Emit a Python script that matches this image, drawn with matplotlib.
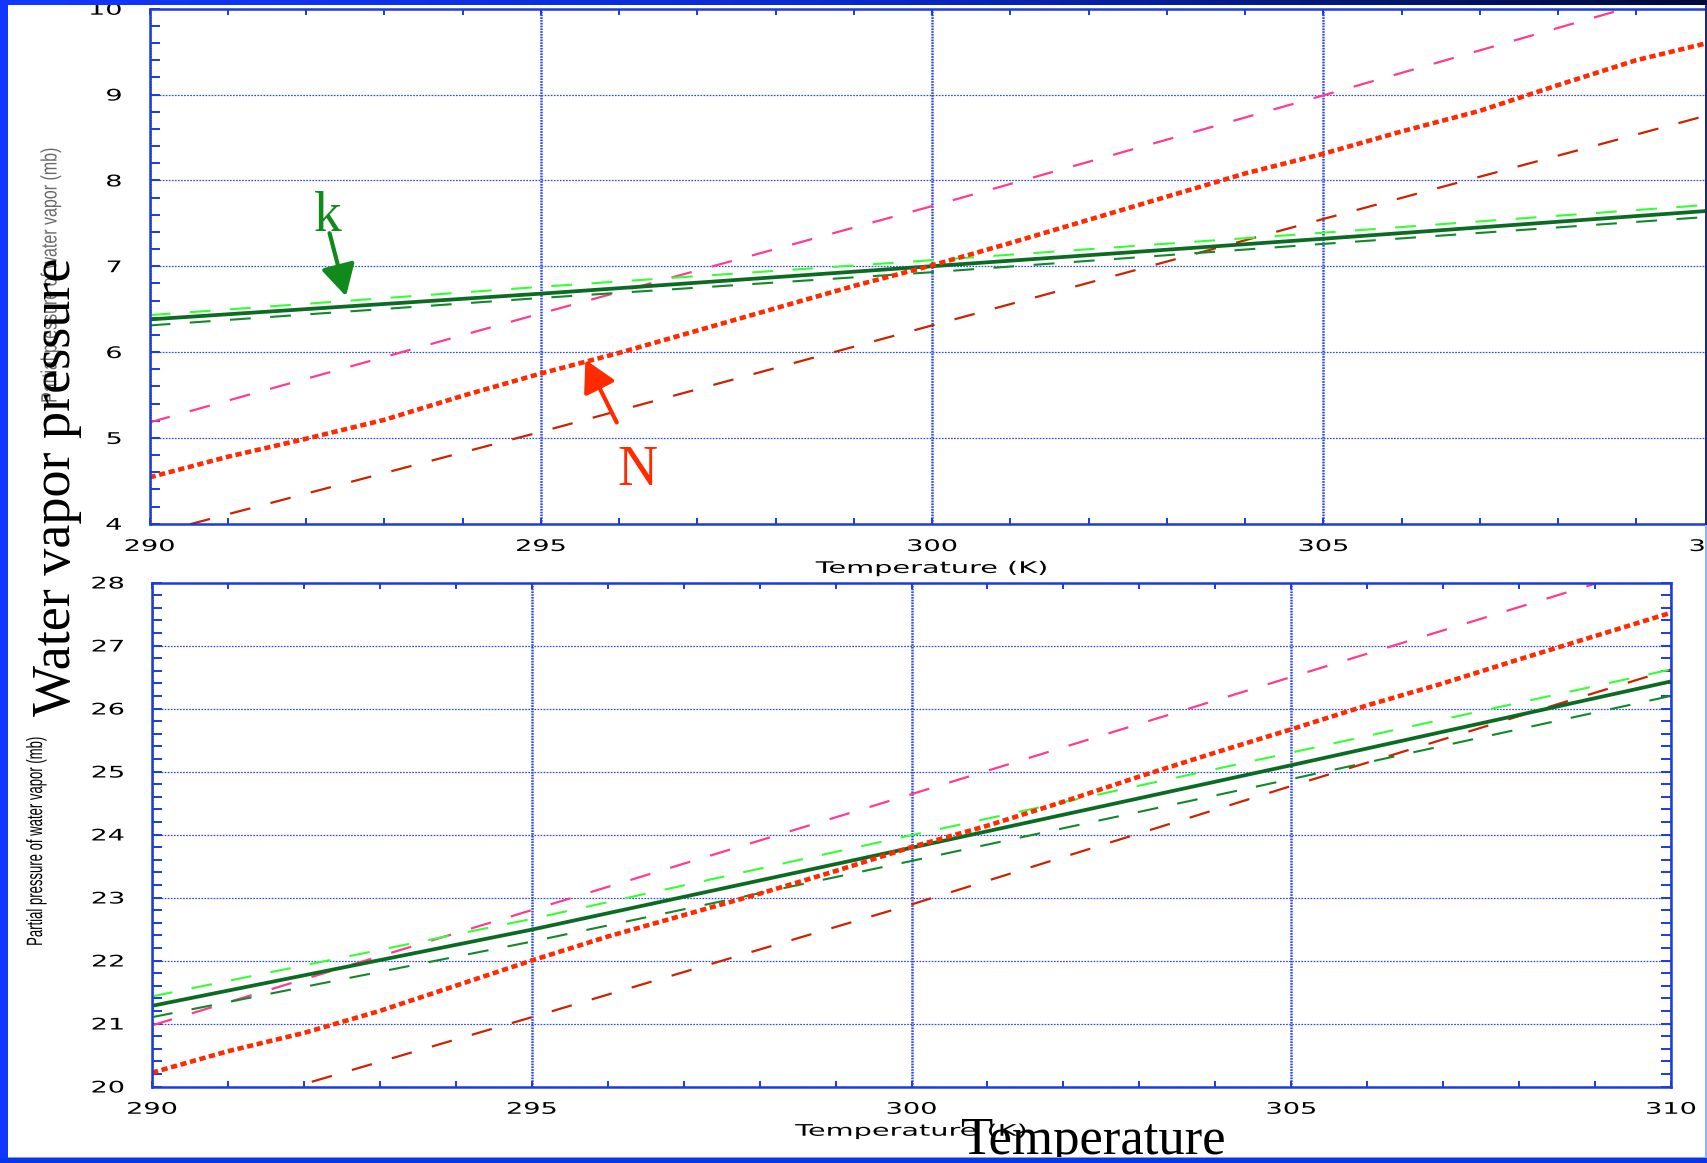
import numpy as np
import matplotlib
matplotlib.use("Agg")
import matplotlib.pyplot as plt
from matplotlib.patheffects import AbstractPathEffect
from matplotlib.transforms import Affine2D
from matplotlib.ticker import MultipleLocator
from matplotlib.patches import Rectangle
from matplotlib.colors import LinearSegmentedColormap

# ---------------- data ----------------
temp5 = [290, 295, 300, 305, 310]
temp1 = [290, 291, 292, 293, 294, 295, 296, 297, 298, 299, 300,
         301, 302, 303, 304, 305, 306, 307, 308, 309, 310]

# top panel (mb)
k_solid_top = [6.38, 6.68, 7.00, 7.32, 7.65]
k_hi_top = [6.43, 6.76, 7.07, 7.39, 7.72]
k_lo_top = [6.31, 6.63, 6.93, 7.26, 7.58]
pink_top = [5.18, 6.45, 7.70, 8.99, 10.30]
red_dash_top = [3.87, 5.07, 6.31, 7.55, 8.78]
N_top = [4.54, 4.78, 4.99, 5.21, 5.49, 5.75, 5.99, 6.25, 6.51, 6.77, 7.01,
         7.27, 7.54, 7.81, 8.08, 8.31, 8.57, 8.81, 9.11, 9.40, 9.62]

# bottom panel (mb)
k_solid_bot = [21.28, 22.49, 23.79, 25.10, 26.43]
k_hi_bot = [21.43, 22.66, 23.99, 25.30, 26.62]
k_lo_bot = [21.10, 22.30, 23.58, 24.88, 26.20]
pink_bot = [20.97, 22.80, 24.64, 26.50, 28.35]
red_dash_bot = [19.33, 21.10, 22.89, 24.77, 26.62]
N_bot = [20.22, 20.56, 20.85, 21.20, 21.60, 22.00, 22.38, 22.72, 23.06, 23.42, 23.80,
         24.14, 24.52, 24.92, 25.30, 25.67, 26.05, 26.40, 26.78, 27.15, 27.52]

xticks = [290, 295, 300, 305, 310]
yticks_top = [4, 5, 6, 7, 8, 9, 10]
yticks_bot = [20, 21, 22, 23, 24, 25, 26, 27, 28]

xlabel_txt = "Temperature (K)"
ylabel_txt = "Partial pressure of water vapor (mb)"

# ---------------- style ----------------
plt.rcParams['lines.scale_dashes'] = False
W, H = 1707, 1163
BLUE = '#1a3ce0'
GRID = '#2a48e6'


class Stretch(AbstractPathEffect):
    """Scale rendered text along screen axes (emulates the wide/condensed fonts)."""
    def __init__(self, sx=1.0, sy=1.0, anchor='center'):
        super().__init__()
        self.sx, self.sy, self.anchor = sx, sy, anchor

    def draw_path(self, renderer, gc, tpath, affine, rgbFace=None):
        ext = tpath.get_extents(affine)
        axx = ext.x1 if self.anchor == 'right' else 0.5 * (ext.x0 + ext.x1)
        ayy = 0.5 * (ext.y0 + ext.y1)
        t = affine + Affine2D().translate(-axx, -ayy).scale(self.sx, self.sy).translate(axx, ayy)
        renderer.draw_path(gc, tpath, t, rgbFace)


fig = plt.figure(figsize=(W / 100, H / 100), dpi=100)
fig.patch.set_facecolor('white')


def px_axes(l, t, r, b):
    return fig.add_axes([l / W, 1 - b / H, (r - l) / W, (b - t) / H])


ax_top = px_axes(149.6, 8.7, 1714.5, 523.7)
ax_bot = px_axes(152.0, 582.5, 1671.0, 1086.5)

series_styles = dict(
    pink=dict(color='#ff3b8e', lw=1.6, ls=(0, (15, 15))),
    reddash=dict(color='#cc2200', lw=1.6, ls=(0, (15, 15))),
    hi=dict(color='#33ff33', lw=1.5, ls=(0, (15, 14))),
    lo=dict(color='#13882a', lw=1.5, ls=(0, (15, 14))),
    solid=dict(color='#0b6b23', lw=2.7, ls='-'),
    dotted=dict(color='#ff2a00', lw=3.3, ls=(0, (4.5, 2.6))),
)


def draw_panel(ax, kh, kl, ks, pk, rd, nn, ylo, yhi, yticks, ylab_xy, ylab_color, ylab_sy):
    ax.plot(temp5, pk, **series_styles['pink'])
    ax.plot(temp5, rd, **series_styles['reddash'])
    ax.plot(temp5, kh, **series_styles['hi'])
    ax.plot(temp5, kl, **series_styles['lo'])
    ax.plot(temp5, ks, **series_styles['solid'])
    ax.plot(temp1, nn, **series_styles['dotted'])
    ax.set_xlim(290, 310)
    ax.set_ylim(ylo, yhi)
    ax.set_xticks(xticks)
    ax.set_yticks(yticks)
    ax.xaxis.set_minor_locator(MultipleLocator(1))
    ax.yaxis.set_minor_locator(MultipleLocator(0.2))
    ax.grid(True, which='major', axis='x', color=GRID, linestyle=(0, (1.2, 0.8)), linewidth=1.8)
    ax.grid(True, which='major', axis='y', color=GRID, linestyle=(0, (1.2, 1.0)), linewidth=0.9)
    for s in ax.spines.values():
        s.set_color(BLUE)
        s.set_linewidth(1.8)
    ax.tick_params(which='both', direction='in', top=True, right=True, color=BLUE, width=1.4)
    ax.tick_params(axis='x', which='both', length=4, pad=11, labelsize=11.5)
    ax.tick_params(axis='y', which='both', length=7, pad=20, labelsize=11.5)
    for lbl in ax.get_xticklabels():
        lbl.set_path_effects([Stretch(sx=1.7)])
    for lbl in ax.get_yticklabels():
        lbl.set_path_effects([Stretch(sx=1.7, anchor='right')])
    xl = ax.set_xlabel(xlabel_txt, fontsize=11.5, labelpad=5)
    xl.set_path_effects([Stretch(sx=1.8)])
    yl = ax.set_ylabel(ylabel_txt, fontsize=16, color=ylab_color,
                       family=['Liberation Sans Narrow', 'Liberation Sans', 'DejaVu Sans'],
                       ha='center', va='center')
    yl.set_path_effects([Stretch(sy=ylab_sy)])
    ax.yaxis.set_label_coords(*ylab_xy)


draw_panel(ax_top, k_hi_top, k_lo_top, k_solid_top, pink_top, red_dash_top, N_top,
           4, 10, yticks_top, (-0.063, 0.483), '#6a6a6a', 0.72)
draw_panel(ax_bot, k_hi_bot, k_lo_bot, k_solid_bot, pink_bot, red_dash_bot, N_bot,
           20, 28, yticks_bot, (-0.076, 0.487), 'black', 0.59)

# ---------------- annotations k and N ----------------
serif = ['Liberation Serif', 'DejaVu Serif']
ax_top.text(292.28, 7.41, 'k', color='#108a1a', fontsize=40, family=serif,
            ha='center', va='baseline', zorder=6)
ax_top.annotate('', xy=(292.51, 6.65), xytext=(292.30, 7.385),
                arrowprops=dict(arrowstyle='-|>,head_length=0.95,head_width=0.52',
                                color='#108a1a', lw=3, mutation_scale=20,
                                shrinkA=0, shrinkB=0), zorder=6)
ax_top.text(296.24, 4.455, 'N', color='#ff2a00', fontsize=40, family=serif,
            ha='center', va='baseline', zorder=6)
ax_top.annotate('', xy=(295.57, 5.91), xytext=(295.97, 5.18),
                arrowprops=dict(arrowstyle='-|>,head_length=0.95,head_width=0.52',
                                color='#ff2a00', lw=3, mutation_scale=20,
                                shrinkA=0, shrinkB=0), zorder=6)

# ---------------- slide titles ----------------
fig.text(57 / W, 1 - 487 / H, 'Water vapor pressure', rotation=90, fontsize=39,
         family=serif, ha='center', va='center', color='black')
fig.text(1093 / W, 1 - 1154 / H, 'Temperature', fontsize=38, family=serif,
         ha='center', va='baseline', color='black')

# ---------------- slide frame ----------------
ov = fig.add_axes([0, 0, 1, 1], zorder=10)
ov.set_axis_off()
ov.patch.set_alpha(0)
cmap = LinearSegmentedColormap.from_list('band', ['#1238ff', '#0a2ad0', '#000a3a'])
ov.imshow(np.linspace(0, 1, 256)[None, :], cmap=cmap, aspect='auto',
          extent=(0, W, 5, 0), zorder=1)
ov.add_patch(Rectangle((0, 0), 8, H, color='#1036ff', zorder=2, lw=0))
ov.add_patch(Rectangle((0, 1158), W, 5, color='#0a34e8', zorder=2, lw=0))
ov.add_patch(Rectangle((8, 1157), W, 1.2, color='#7d9dff', zorder=2, lw=0))
ov.add_patch(Rectangle((1704.5, 5), 2.5, 520, color='#1c2a70', zorder=2, lw=0))
ov.add_patch(Rectangle((1704.5, 525), 2.5, 633, color='#8fb0ff', zorder=2, lw=0))
ov.set_xlim(0, W)
ov.set_ylim(H, 0)

fig.savefig('out.png', dpi=100)
